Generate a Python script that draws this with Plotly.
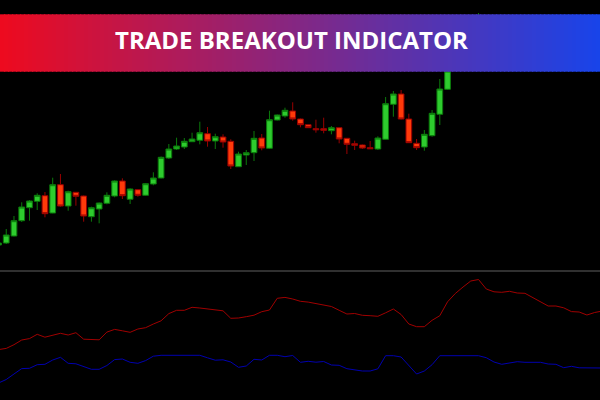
import plotly.graph_objects as go

# ---------------- data ----------------
bar_index = list(range(63))
open_ = [35, 37, 44, 59.3, 72.3, 78.7, 84.3, 67, 95.3, 74, 87.7, 84, 63.3, 71, 76.7, 84, 99, 80.7, 90.3, 84.7,
         96, 102, 122, 131, 133, 138.3, 139.7, 146.3, 139, 143, 138.7, 113.3, 125, 127.3, 142, 131.7, 160, 164, 169, 161,
         155.3, 151.3, 151.3, 149.3, 152.3, 141.7, 136.3, 135, 132.3, 131, 140.7, 175.7, 186, 161, 136.7, 133, 144.3, 165.7, 190.7, 218,
         235, 228, 249]
high = [38, 51, 64, 77.7, 80, 86.7, 88, 102.3, 106, 89.3, 88, 84.5, 73.3, 77.5, 87.7, 99.7, 101.7, 91.7, 90.5, 97,
        107.7, 123.5, 136, 142.3, 142, 147.3, 158.3, 153, 146.3, 145.7, 140.7, 128.3, 130, 149, 146, 169.3, 165.5, 172.3, 177.7, 161.5,
        155.5, 160.3, 162.3, 154, 152.5, 142, 139.3, 135.5, 139, 143.7, 183, 189, 190, 166.3, 141, 150, 170, 201, 220, 240,
        242, 255, 267]
low = [34, 36, 43.5, 58, 59.3, 70, 62.7, 66.7, 73.3, 69.3, 74.3, 58.3, 58.3, 56.7, 75.7, 82.7, 81, 76, 83.3, 84,
       94.7, 101.5, 121, 130, 131, 138, 135.7, 133.3, 131, 132.3, 111, 113, 115, 119, 129.7, 131, 159.5, 162.3, 159.3, 152.7,
       152, 147.3, 146.7, 145.7, 136.7, 126, 130, 131, 131, 130, 140.5, 163.3, 160.5, 137, 130, 129.3, 143.3, 155, 190, 214,
       222, 225, 245]
close = [37, 45, 59.3, 73, 79, 84.7, 66.3, 95.3, 74, 88.3, 83.7, 64, 72.3, 77, 84.7, 99, 84.3, 91, 84.7, 96.3,
         102, 122.7, 131, 134, 138.7, 141, 147.3, 139, 143.3, 138, 114, 126, 127.3, 141.7, 132, 160.3, 165, 169.7, 161, 155.3,
         152.3, 150.3, 149.7, 152.3, 141, 135.7, 134.7, 132, 131.3, 142, 176.3, 186, 161, 137.3, 132.3, 145.7, 166.7, 191, 209, 235,
         228, 250, 258]

ind_index = list(range(79))
upper_line = [50.4, 51.6, 55.3, 60, 61.4, 65.7, 62.8, 64.5, 66.7, 65, 67.3, 60.8, 60.4, 60.2, 67.9, 70.6, 69.2, 67.7, 71, 72.3,
              76, 79.2, 86.4, 89.7, 89.7, 92.7, 92, 91, 90, 89.2, 81.7, 82, 83.3, 84.8, 88.3, 90, 101.7, 102.6, 101, 98.7,
              97.9, 96.5, 95.2, 93.5, 89.7, 86, 86.5, 84.7, 84.3, 83.7, 87.2, 91, 85.5, 76, 73.3, 73.3, 79.7, 84.3, 98.2, 106.5,
              113, 119, 120.5, 111, 108.2, 107.7, 108.7, 107, 106.7, 102.5, 98.2, 94, 94, 92.2, 88.4, 88, 85, 87.5, 89]
lower_line = [17, 20.5, 26, 31.4, 31.7, 35.3, 35.7, 40, 42.7, 36.7, 36.2, 33.5, 30.7, 30.7, 34.5, 40.4, 41, 37.7, 36.7, 39.4,
              43.8, 44.7, 44.7, 44.7, 44.7, 44.7, 44.7, 42.2, 39.8, 40.2, 38, 32.7, 34, 40.7, 40, 44.7, 44.7, 43.3, 44.5, 37.7,
              38.7, 37.8, 38.5, 35, 34.7, 31.3, 30, 29, 29, 31.2, 44.3, 44.3, 43, 34, 26, 29, 35.3, 44.3, 44.3, 44.3,
              44.3, 44.3, 44.3, 42.3, 38, 35.7, 37, 38.3, 37.7, 37.7, 37.7, 36, 35.7, 32.3, 33.7, 32.2, 32, 32, 32]

title_text = "TRADE BREAKOUT INDICATOR"
banner_left_rgb = (238, 10, 30)
banner_right_rgb = (24, 68, 234)

# ---------------- figure ----------------
fig = go.Figure()

fig.add_trace(go.Candlestick(
    x=bar_index, open=open_, high=high, low=low, close=close,
    increasing=dict(line=dict(color="#0b7a0b", width=1), fillcolor="#2ecc2e"),
    decreasing=dict(line=dict(color="#990000", width=1), fillcolor="#ff3a0a"),
    whiskerwidth=0, xaxis="x", yaxis="y", showlegend=False, hoverinfo="skip",
))

fig.add_trace(go.Scatter(
    x=ind_index, y=upper_line, mode="lines", line=dict(color="#a00000", width=1),
    xaxis="x", yaxis="y2", showlegend=False, hoverinfo="skip",
))
fig.add_trace(go.Scatter(
    x=ind_index, y=lower_line, mode="lines", line=dict(color="#0000b0", width=1),
    xaxis="x", yaxis="y2", showlegend=False, hoverinfo="skip",
))

shapes = []
# separator between panels
shapes.append(dict(type="line", xref="paper", yref="paper", x0=0, x1=1, y0=0.3225, y1=0.3225,
                   line=dict(color="#404040", width=1.5), layer="above"))
# gradient banner
n = 150
for k in range(n):
    t = (k + 0.5) / n
    r = round(banner_left_rgb[0] + (banner_right_rgb[0] - banner_left_rgb[0]) * t)
    g = round(banner_left_rgb[1] + (banner_right_rgb[1] - banner_left_rgb[1]) * t)
    b = round(banner_left_rgb[2] + (banner_right_rgb[2] - banner_left_rgb[2]) * t)
    shapes.append(dict(type="rect", xref="paper", yref="paper",
                       x0=k / n, x1=(k + 1) / n + 0.002, y0=1 - 71.7 / 400, y1=1 - 14.3 / 400,
                       fillcolor=f"rgb({r},{g},{b})", line=dict(width=0), layer="above"))

fig.update_layout(
    width=600, height=400,
    margin=dict(l=0, r=0, t=0, b=0),
    paper_bgcolor="black", plot_bgcolor="black",
    boxgap=0.1, boxgroupgap=0.18,
    xaxis=dict(range=[0.1937, 77.69], visible=False, showgrid=False, zeroline=False,
               rangeslider=dict(visible=False), anchor="y"),
    yaxis=dict(domain=[0.325, 1], range=[10, 280], visible=False, showgrid=False, zeroline=False),
    yaxis2=dict(domain=[0, 0.3225], range=[0, 129], visible=False, showgrid=False, zeroline=False),
    shapes=shapes,
    annotations=[dict(text=f"<b>{title_text}</b>", xref="paper", yref="paper",
                      x=291.5 / 600, y=1 - 40 / 400, xanchor="center", yanchor="middle",
                      showarrow=False, font=dict(family="Open Sans", size=24, color="white"))],
)

fig.write_html(
    "out.html",
    config={"displayModeBar": False},
    post_script="document.body.style.margin='0';document.body.style.background='black';"
                "document.documentElement.style.background='black';",
)
